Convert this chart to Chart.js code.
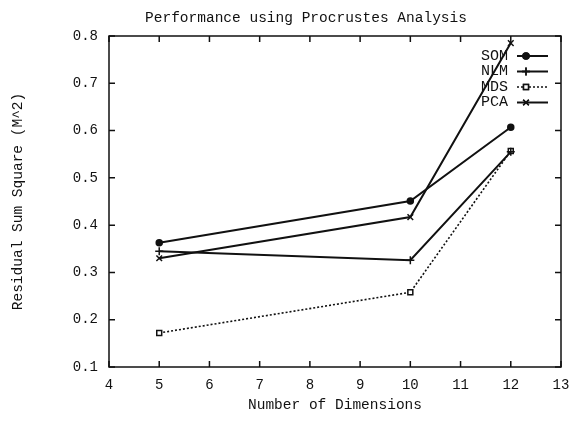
<!DOCTYPE html>
<html><head><meta charset="utf-8">
<script src="https://cdn.jsdelivr.net/npm/chart.js@4/dist/chart.umd.min.js"></script>
<style>html,body{margin:0;padding:0;background:#fff}#wrap{width:570px;height:424px}</style>
</head><body><div id="wrap"><canvas id="c" width="570" height="424"></canvas></div>
<script>
const dimensions = [5, 10, 12];
const som = [0.363, 0.451, 0.607];
const nlm = [0.345, 0.326, 0.555];
const mds = [0.172, 0.258, 0.557];
const pca = [0.330, 0.417, 0.785];
const seriesNames = ['SOM', 'NLM', 'MDS', 'PCA'];
const xTickValues = [4, 5, 6, 7, 8, 9, 10, 11, 12, 13];
const yTickValues = [0.1, 0.2, 0.3, 0.4, 0.5, 0.6, 0.7, 0.8];
const chartTitle = 'Performance using Procrustes Analysis';

const FONT = "'Liberation Mono', 'Courier New', monospace";
const INK = '#111';

function pts(vals) { return dimensions.map((d, i) => ({ x: d, y: vals[i] })); }

const styles = [
  { pointStyle: 'circle', pointRadius: 3, pointBackgroundColor: INK, borderDash: [], borderWidth: 2 },
  { pointStyle: 'cross', pointRadius: 4, pointBackgroundColor: INK, borderDash: [], borderWidth: 2 },
  { pointStyle: 'rect', pointRadius: 3.5, pointBackgroundColor: '#fff', borderDash: [2, 2], borderWidth: 1.6 },
  { pointStyle: 'crossRot', pointRadius: 4, pointBackgroundColor: INK, borderDash: [], borderWidth: 2 }
];
const seriesVals = [som, nlm, mds, pca];

const datasets = seriesNames.map((n, i) => Object.assign({
  label: n,
  data: pts(seriesVals[i]),
  borderColor: INK,
  pointBorderColor: INK,
  pointBorderWidth: 1.5,
  fill: false,
  tension: 0
}, styles[i]));

const frameTicks = {
  id: 'frameTicks',
  afterDatasetsDraw(chart) {
    const { ctx, chartArea: a, scales } = chart;
    ctx.save();
    ctx.strokeStyle = INK;
    ctx.lineWidth = 1.5;
    ctx.strokeRect(a.left, a.top, a.right - a.left, a.bottom - a.top);
    const L = 6;
    ctx.beginPath();
    xTickValues.forEach(v => {
      const x = scales.x.getPixelForValue(v);
      ctx.moveTo(x, a.bottom); ctx.lineTo(x, a.bottom - L);
      ctx.moveTo(x, a.top); ctx.lineTo(x, a.top + L);
    });
    yTickValues.forEach(v => {
      const y = scales.y.getPixelForValue(v);
      ctx.moveTo(a.left, y); ctx.lineTo(a.left + L, y);
      ctx.moveTo(a.right, y); ctx.lineTo(a.right - L, y);
    });
    ctx.stroke();
    ctx.restore();
  }
};

const titleText = {
  id: 'titleText',
  afterDraw(chart) {
    const { ctx } = chart;
    ctx.save();
    ctx.font = '14.5px ' + FONT;
    ctx.fillStyle = INK;
    ctx.textAlign = 'center';
    ctx.textBaseline = 'middle';
    ctx.fillText(chartTitle, 306, 18);
    ctx.restore();
  }
};

const innerLegend = {
  id: 'innerLegend',
  afterDraw(chart) {
    const { ctx, chartArea: a } = chart;
    ctx.save();
    ctx.font = '15px ' + FONT;
    ctx.fillStyle = INK;
    ctx.textAlign = 'right';
    ctx.textBaseline = 'middle';
    const textRight = a.right - 53;
    const x0 = a.right - 44, x1 = a.right - 13;
    chart.data.datasets.forEach((ds, i) => {
      const y = a.top + 20 + i * 15.5;
      ctx.fillText(ds.label, textRight, y);
      ctx.strokeStyle = INK;
      ctx.lineWidth = ds.borderWidth;
      ctx.setLineDash(ds.borderDash || []);
      ctx.beginPath(); ctx.moveTo(x0, y); ctx.lineTo(x1, y); ctx.stroke();
      ctx.setLineDash([]);
      ctx.lineWidth = 1.5;
      Chart.helpers.drawPoint(ctx, {
        pointStyle: ds.pointStyle, radius: ds.pointRadius, rotation: 0, borderWidth: 1.5
      }, x0 + 9, y);
      ctx.fillStyle = ds.pointBackgroundColor;
      ctx.strokeStyle = INK;
      ctx.fill(); ctx.stroke();
      ctx.fillStyle = INK;
    });
    ctx.restore();
  }
};

new Chart(document.getElementById('c'), {
  type: 'line',
  data: { datasets },
  options: {
    responsive: false,
    animation: false,
    layout: { padding: { left: 0, right: 9, top: 36, bottom: 0 } },
    plugins: {
      legend: { display: false },
      tooltip: { enabled: false },
      title: { display: false }
    },
    scales: {
      x: {
        type: 'linear', min: 4, max: 13,
        afterBuildTicks(s) { s.ticks = xTickValues.map(v => ({ value: v })); },
        ticks: { color: INK, font: { family: FONT, size: 14 }, padding: 10 },
        grid: { display: false, drawTicks: false },
        border: { display: false },
        title: { display: true, text: 'Number of Dimensions', color: INK,
          font: { family: FONT, size: 14.5 }, padding: { top: 0, bottom: 10 } },
        afterFit(s) { s.height = 57; s.paddingLeft = 0; s.paddingRight = 0; }
      },
      y: {
        type: 'linear', min: 0.1, max: 0.8,
        afterBuildTicks(s) { s.ticks = yTickValues.map(v => ({ value: v })); },
        ticks: { color: INK, font: { family: FONT, size: 14 }, padding: 11,
          callback: v => Number(v).toFixed(1) },
        grid: { display: false, drawTicks: false },
        border: { display: false },
        title: { display: true, text: 'Residual Sum Square (M^2)', color: INK,
          font: { family: FONT, size: 14.5 }, padding: { top: 9, bottom: 0 } },
        afterFit(s) { s.width = 109; s.paddingTop = 0; s.paddingBottom = 0; }
      }
    }
  },
  plugins: [frameTicks, titleText, innerLegend]
});
</script></body></html>
